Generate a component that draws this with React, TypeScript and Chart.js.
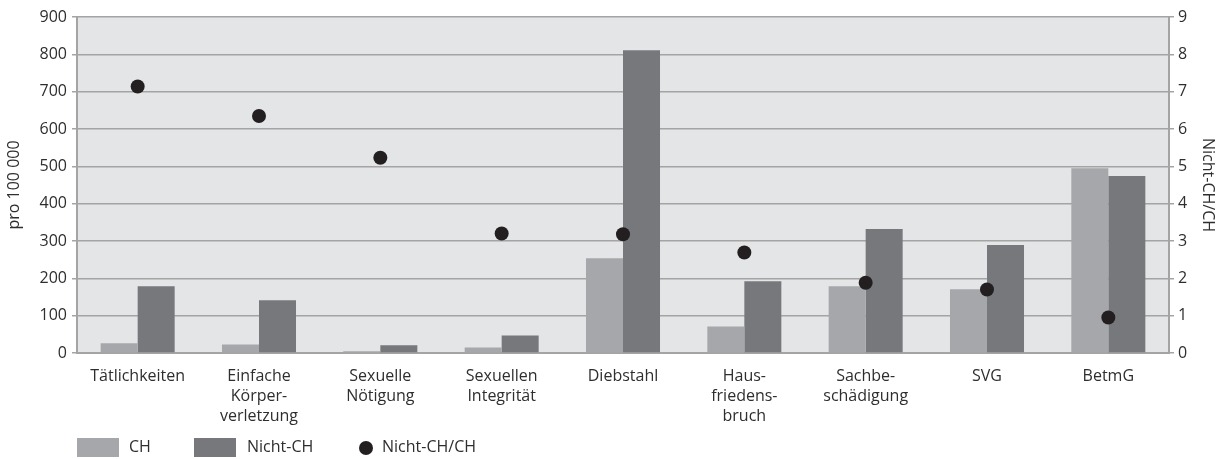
import React, { useEffect, useRef } from "react";
import { Chart, registerables } from "chart.js";

Chart.register(...registerables);

const categories: string[][] = [
  ["Tätlichkeiten"],
  ["Einfache", "Körper-", "verletzung"],
  ["Sexuelle", "Nötigung"],
  ["Sexuellen", "Integrität"],
  ["Diebstahl"],
  ["Haus-", "friedens-", "bruch"],
  ["Sachbe-", "schädigung"],
  ["SVG"],
  ["BetmG"],
];
const chValues = [26, 23, 5, 15, 254, 71, 179, 171, 495];
const nichtChValues = [179, 141, 21, 47, 811, 192, 332, 289, 474];
const ratioValues = [7.14, 6.35, 5.23, 3.2, 3.18, 2.69, 1.88, 1.7, 0.95];
const leftTicksMax = 900;
const rightTicksMax = 9;

const FONT = "'Open Sans', Lato, sans-serif";
const TEXT = "#2e2e2e";
const CH_COLOR = "#a6a7aa";
const NCH_COLOR = "#77787c";
const DOT_COLOR = "#231f20";
const GRID = "#a4a4a4";
const FS = 16;

const plotBg = {
  id: "plotBg",
  beforeDraw(chart: any) {
    const { ctx, chartArea } = chart;
    ctx.save();
    ctx.fillStyle = "#e4e5e7";
    ctx.fillRect(chartArea.left, chartArea.top, chartArea.right - chartArea.left, chartArea.bottom - chartArea.top);
    ctx.restore();
  },
};

export default function App() {
  const ref = useRef<HTMLCanvasElement | null>(null);
  useEffect(() => {
    document.body.style.margin = "0";
    const chart = new Chart(ref.current as HTMLCanvasElement, {
      type: "bar",
      data: {
        labels: categories as any,
        datasets: [
          {
            type: "line" as any,
            label: "Nicht-CH/CH",
            data: ratioValues,
            yAxisID: "y1",
            showLine: false,
            pointRadius: 7,
            pointHoverRadius: 7,
            pointBackgroundColor: DOT_COLOR,
            pointBorderColor: DOT_COLOR,
            pointBorderWidth: 0,
            order: 0,
          } as any,
          {
            label: "CH",
            data: chValues,
            backgroundColor: CH_COLOR,
            yAxisID: "y",
            categoryPercentage: 0.61,
            barPercentage: 1,
            order: 1,
          },
          {
            label: "Nicht-CH",
            data: nichtChValues,
            backgroundColor: NCH_COLOR,
            yAxisID: "y",
            categoryPercentage: 0.61,
            barPercentage: 1,
            order: 1,
          },
        ],
      },
      options: {
        animation: false,
        responsive: false,
        maintainAspectRatio: false,
        layout: { padding: { top: 17, left: 0, right: 0, bottom: 0 } },
        plugins: {
          legend: { display: false },
          tooltip: { enabled: false },
        },
        scales: {
          x: {
            offset: true,
            grid: { display: false, drawTicks: false },
            border: { display: true, color: GRID, width: 2 },
            ticks: {
              color: TEXT,
              font: { family: FONT, size: FS, lineHeight: 1.25 },
              padding: 13,
              maxRotation: 0,
              autoSkip: false,
            },
            afterFit: (s: any) => {
              s.height = 106;
            },
          },
          y: {
            position: "left",
            min: 0,
            max: leftTicksMax,
            ticks: { stepSize: 100, color: TEXT, font: { family: FONT, size: FS }, padding: 5 },
            grid: { color: GRID, lineWidth: 1.5, tickLength: 5, drawOnChartArea: true },
            border: { display: true, color: GRID, width: 2 },
            title: {
              display: true,
              text: "pro 100 000",
              color: TEXT,
              font: { family: FONT, size: FS, lineHeight: 1.2 },
              padding: { top: 5, bottom: 0 },
            },
            afterFit: (s: any) => {
              s.width = 77;
            },
          },
          y1: {
            position: "right",
            min: 0,
            max: rightTicksMax,
            ticks: { stepSize: 1, color: TEXT, font: { family: FONT, size: FS }, padding: 4 },
            grid: { color: GRID, lineWidth: 1.5, tickLength: 5, drawOnChartArea: false },
            border: { display: true, color: GRID, width: 2 },
            title: {
              display: true,
              text: "Nicht-CH/CH",
              color: TEXT,
              font: { family: FONT, size: FS, lineHeight: 1.2 },
              padding: { top: 3, bottom: 0 },
            },
            afterFit: (s: any) => {
              s.width = 51;
            },
          },
        },
      } as any,
      plugins: [plotBg],
    });
    return () => chart.destroy();
  }, []);

  const textStyle: React.CSSProperties = {
    position: "absolute",
    top: 437,
    fontFamily: FONT,
    fontSize: FS,
    lineHeight: "19px",
    color: TEXT,
  };

  return (
    <div style={{ position: "fixed", left: 0, top: 0, width: 1220, height: 459, background: "#fff" }}>
      <canvas ref={ref} width={1220} height={459} style={{ display: "block" }} />
      <div style={{ position: "absolute", left: 77, top: 438, width: 42, height: 19, background: CH_COLOR }} />
      <div style={{ ...textStyle, left: 129 }}>CH</div>
      <div style={{ position: "absolute", left: 194, top: 438, width: 42, height: 19, background: NCH_COLOR }} />
      <div style={{ ...textStyle, left: 247 }}>Nicht-CH</div>
      <div style={{ position: "absolute", left: 359, top: 440.5, width: 14, height: 14, borderRadius: 7, background: DOT_COLOR }} />
      <div style={{ ...textStyle, left: 382 }}>Nicht-CH/CH</div>
    </div>
  );
}
